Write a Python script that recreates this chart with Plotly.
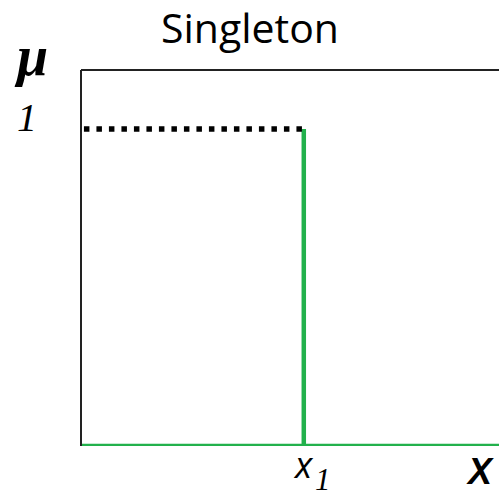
import plotly.graph_objects as go

# Data
universe = [0, 10]            # x-axis span of the universe of discourse
singleton_x = 5.33            # position of the singleton x1
membership_peak = 1.0         # membership value at x1
y_max = 1.186

title_text = "Singleton"
x_label_main = "x"
x_label_sub = "1"
y_tick_label = "1"

W, H = 499, 496
L, R, T, B = 81, 0, 70, 50
pw, ph = W - L - R, H - T - B

def px2paper(px, py):
    return (px - L) / pw, (H - B - py) / ph

green = "#22b14c"

fig = go.Figure()

fig.add_trace(go.Scatter(
    x=[universe[0], singleton_x, singleton_x, singleton_x, universe[1]],
    y=[0, 0, membership_peak, 0, 0],
    mode="lines", line=dict(color=green, width=4.5),
    cliponaxis=False, hoverinfo="skip", showlegend=False))

fig.add_trace(go.Scatter(
    x=[universe[0] + 0.07, singleton_x], y=[membership_peak, membership_peak],
    mode="lines", line=dict(color="black", width=5.5, dash="5.5px,7px"),
    cliponaxis=False, hoverinfo="skip", showlegend=False))

shapes = [
    dict(type="line", xref="paper", yref="paper", x0=0, x1=0, y0=0, y1=1,
         line=dict(color="#222", width=2)),
    dict(type="line", xref="paper", yref="paper", x0=0, x1=1, y0=1, y1=1,
         line=dict(color="#222", width=2)),
]

ann = []
mx, my = px2paper(31, 56)
ann.append(dict(text="<b><i>μ</i></b>", x=mx, y=my, xref="paper", yref="paper",
                showarrow=False, xanchor="center", yanchor="middle",
                font=dict(family="Liberation Serif", size=56, color="black")))
ox, oy = px2paper(27, 117)
ann.append(dict(text=f"<i>{y_tick_label}</i>", x=ox, y=oy, xref="paper", yref="paper",
                showarrow=False, xanchor="center", yanchor="middle",
                font=dict(family="Liberation Serif", size=40, color="black")))
_, xy = px2paper(0, 464)
ann.append(dict(text=f"<i>{x_label_main}</i>", x=singleton_x, y=xy, xref="x", yref="paper",
                xshift=0, showarrow=False, xanchor="center", yanchor="middle",
                font=dict(family="Open Sans", size=36, color="black")))
_, sy = px2paper(0, 479)
ann.append(dict(text=f"<i>{x_label_sub}</i>", x=singleton_x, y=sy, xref="x", yref="paper",
                xshift=19, showarrow=False, xanchor="center", yanchor="middle",
                font=dict(family="Liberation Serif", size=31, color="black")))
Xx, Xy = px2paper(480, 471)
ann.append(dict(text="<b><i>X</i></b>", x=Xx, y=Xy, xref="paper", yref="paper",
                showarrow=False, xanchor="center", yanchor="middle",
                font=dict(family="Liberation Sans", size=36, color="black")))

fig.update_layout(
    width=W, height=H,
    margin=dict(l=L, r=R, t=T, b=B),
    paper_bgcolor="white", plot_bgcolor="white",
    title=dict(text=title_text, x=250 / W, xref="container", y=1 - 29 / H,
               xanchor="center", yanchor="middle",
               font=dict(family="Open Sans", size=41, color="black")),
    xaxis=dict(range=universe, showgrid=False, zeroline=False, showticklabels=False,
               showline=False, ticks=""),
    yaxis=dict(range=[0, y_max], showgrid=False, zeroline=False, showticklabels=False,
               showline=False, ticks=""),
    shapes=shapes, annotations=ann,
)

fig.write_html("out.html", config={"displayModeBar": False},
               post_script="document.body.style.margin='0';document.body.style.overflow='hidden';")
